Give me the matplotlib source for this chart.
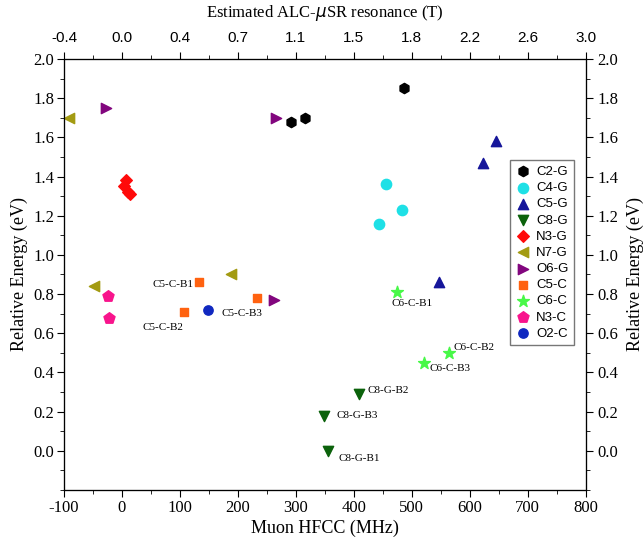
import matplotlib
matplotlib.use("Agg")
import matplotlib.pyplot as plt
from matplotlib.ticker import MultipleLocator

plt.rcParams["axes.unicode_minus"] = False

# data (Muon HFCC in MHz, relative energy in eV)
c2g_x = [291, 316, 486]
c2g_y = [1.68, 1.70, 1.85]
c4g_x = [455, 443, 483]
c4g_y = [1.36, 1.16, 1.23]
c5g_x = [547, 622, 645]
c5g_y = [0.86, 1.47, 1.58]
c8g_x = [409, 348, 355]
c8g_y = [0.29, 0.18, 0.0]
n3g_x = [7, 4, 10, 14]
n3g_y = [1.38, 1.35, 1.32, 1.31]
n7g_x = [-91, -49, 188]
n7g_y = [1.70, 0.84, 0.90]
o6g_x = [-28, 266, 262]
o6g_y = [1.75, 1.70, 0.77]
c5c_x = [133, 107, 233]
c5c_y = [0.86, 0.71, 0.78]
c6c_x = [474, 564, 521]
c6c_y = [0.81, 0.50, 0.45]
n3c_x = [-24, -22]
n3c_y = [0.79, 0.68]
o2c_x = [148]
o2c_y = [0.72]

labels = ["C5-C-B1", "C5-C-B2", "C5-C-B3", "C6-C-B1", "C6-C-B2", "C6-C-B3",
          "C8-G-B2", "C8-G-B3", "C8-G-B1"]
label_x = [88, 70, 171, 500, 572, 531, 424, 370, 374]
label_y = [0.85, 0.63, 0.70, 0.75, 0.525, 0.42, 0.31, 0.18, -0.04]
label_ha = ["center", "center", "left", "center", "left", "left", "left", "left", "left"]

top_ticks = [-100, 0, 100, 200, 300, 400, 500, 600, 700, 800]
top_labels = ["-0.4", "0.0", "0.4", "0.7", "1.1", "1.5", "1.8", "2.2", "2.6", "3.0"]

serif = "Liberation Serif"
sans = "Liberation Sans"

fig = plt.figure(figsize=(6.43, 5.39), dpi=100)
ax = fig.add_axes([0.0995, 0.091, 0.8115, 0.7995])

ms = 55
ax.scatter(c2g_x, c2g_y, marker="h", s=ms, color="black", label="C2-G", zorder=3)
ax.scatter(c4g_x, c4g_y, marker="o", s=ms, color="#1ee0e6", label="C4-G", zorder=3)
ax.scatter(c5g_x, c5g_y, marker="^", s=ms, color="#16169a", label="C5-G", zorder=3)
ax.scatter(c8g_x, c8g_y, marker="v", s=ms, color="#0b620b", label="C8-G", zorder=3)
ax.scatter(n3g_x, n3g_y, marker="D", s=35, color="#ff0a0a", label="N3-G", zorder=3)
ax.scatter(n7g_x, n7g_y, marker="<", s=ms, color="#a39b12", label="N7-G", zorder=3)
ax.scatter(o6g_x, o6g_y, marker=">", s=ms, color="#82067e", label="O6-G", zorder=3)
ax.scatter(c5c_x, c5c_y, marker="s", s=40, color="#ff6210", label="C5-C", zorder=3)
ax.scatter(c6c_x, c6c_y, marker="*", s=80, color="#48f848", label="C6-C", zorder=3)
ax.scatter(n3c_x, n3c_y, marker="p", s=70, color="#f8148c", label="N3-C", zorder=3)
ax.scatter(o2c_x, o2c_y, marker="o", s=45, color="#1028c0", label="O2-C", zorder=3)

for t, x, y, ha in zip(labels, label_x, label_y, label_ha):
    ax.text(x, y, t, ha=ha, va="center", fontsize=8, family=serif)

ax.set_xlim(-100, 800)
ax.xaxis.set_major_locator(MultipleLocator(100))
ax.xaxis.set_minor_locator(MultipleLocator(50))
ax.yaxis.set_minor_locator(MultipleLocator(0.1))
ax.set_yticks([i * 0.2 for i in range(11)])
ax.set_ylim(-0.2, 2.0)
ax.set_xlabel("Muon HFCC (MHz)", fontsize=13, family=serif, labelpad=3)
ax.set_ylabel("Relative Energy (eV)", fontsize=13, family=serif)
ax.tick_params(which="major", length=5, direction="out", labelsize=12, pad=2)
ax.tick_params(which="minor", length=3, direction="out")
for lab in ax.get_xticklabels() + ax.get_yticklabels():
    lab.set_family(serif)

axr = ax.twinx()
axr.set_yticks([i * 0.2 for i in range(11)])
axr.set_ylim(-0.2, 2.0)
axr.yaxis.set_minor_locator(MultipleLocator(0.1))
axr.set_ylabel("Relative Energy (eV)", fontsize=13, family=serif, rotation=90, labelpad=6)
axr.tick_params(which="major", length=5, direction="out", labelsize=12)
axr.tick_params(which="minor", length=3, direction="out")
for lab in axr.get_yticklabels():
    lab.set_family(serif)

axt = ax.twiny()
axt.set_xlim(-100, 800)
axt.set_xticks(top_ticks)
axt.set_xticklabels(top_labels, family=sans, fontsize=11)
axt.xaxis.set_minor_locator(MultipleLocator(50))
axt.tick_params(which="major", length=5, direction="out", pad=5)
axt.tick_params(which="minor", length=3, direction="out")
axt.set_xlabel("Estimated ALC-$\\mu$SR resonance (T)", fontsize=12, family=serif, labelpad=10)

leg = ax.legend(loc="upper right", bbox_to_anchor=(0.99, 0.78), prop={"family": sans, "size": 9.5},
                frameon=True, fancybox=False, edgecolor="#555555", handletextpad=0.4,
                labelspacing=0.3, borderpad=0.4, handlelength=1.2, scatterpoints=1)
leg.get_frame().set_linewidth(1.0)

fig.savefig("out.png", dpi=100)
